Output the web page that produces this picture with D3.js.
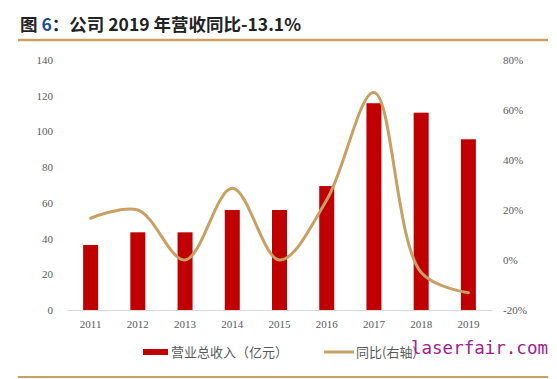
<!DOCTYPE html>
<html>
<head>
<meta charset="utf-8">
<script src="https://cdn.jsdelivr.net/npm/d3@7"></script>
<style>
  body { margin: 0; background: #fff; }
  svg { display: block; }
</style>
</head>
<body>
<svg id="chart" width="557" height="379"></svg>
<script>
const years = ["2011","2012","2013","2014","2015","2016","2017","2018","2019"];
const revenue = [36.4, 43.5, 43.5, 56, 56, 69.4, 115.8, 110.5, 95.6];
const yoy = [16.7, 20, 0, 28.7, 0, 24, 67, -5, -13.1];
const leftTicks = [0, 20, 40, 60, 80, 100, 120, 140];
const rightTicks = [-20, 0, 20, 40, 60, 80];
const seriesNames = ["营业总收入（亿元）", "同比(右轴)"];

const svg = d3.select("#chart");
const serif = "'Liberation Serif', 'DejaVu Serif', serif";
const cjk = "'Noto Sans CJK SC', sans-serif";
const gold = "#C9A063";
const red = "#C00000";
const gray = "#595959";

// Title
const title = svg.append("text").attr("x", 20).attr("y", 31)
  .attr("font-family", "'Noto Sans CJK SC', 'Liberation Sans', sans-serif")
  .attr("font-weight", "bold").attr("font-size", 17.5).attr("fill", "#222");
title.append("tspan").text("图 ");
title.append("tspan").attr("fill", "#1F4E8C").text("6");
title.append("tspan").text("：公司 2019 年营收同比-13.1%");

svg.append("line").attr("x1", 18).attr("x2", 548).attr("y1", 40).attr("y2", 40)
  .attr("stroke", gold).attr("stroke-width", 2.5);
svg.append("line").attr("x1", 18).attr("x2", 548).attr("y1", 377).attr("y2", 377)
  .attr("stroke", gold).attr("stroke-width", 2);

// Scales
const x = d3.scaleBand().domain(years).range([67, 492]).paddingInner(0).paddingOuter(0);
const yL = d3.scaleLinear().domain([0, 140]).range([310, 60]);
const yR = d3.scaleLinear().domain([-20, 80]).range([310, 60]);
const barW = 15;

// Left axis
const axL = svg.append("g").attr("transform", "translate(60,0)")
  .call(d3.axisLeft(yL).tickValues(leftTicks).tickSize(0).tickPadding(7));
axL.select(".domain").remove();
axL.selectAll("text").attr("font-family", serif).attr("font-size", 11).attr("fill", gray);

// Right axis
const axR = svg.append("g").attr("transform", "translate(497,0)")
  .call(d3.axisRight(yR).tickValues(rightTicks).tickSize(0).tickPadding(6).tickFormat(d => d + "%"));
axR.select(".domain").remove();
axR.selectAll("text").attr("font-family", serif).attr("font-size", 11).attr("fill", gray);

// Bars
svg.append("g").selectAll("rect").data(years).join("rect")
  .attr("x", d => x(d) + x.bandwidth() / 2 - barW / 2)
  .attr("y", (d, i) => yL(revenue[i]))
  .attr("width", barW)
  .attr("height", (d, i) => yL(0) - yL(revenue[i]))
  .attr("fill", red);

// Bottom axis
const axB = svg.append("g").attr("transform", "translate(0,310)")
  .call(d3.axisBottom(x).tickSize(0).tickPadding(10));
axB.select(".domain").attr("stroke", "#D9D9D9").attr("stroke-width", 1.2);
axB.selectAll("text").attr("font-family", serif).attr("font-size", 11).attr("fill", gray);

// Line
const line = d3.line()
  .x((d, i) => x(years[i]) + x.bandwidth() / 2)
  .y(d => yR(d))
  .curve(d3.curveCatmullRom.alpha(0.5));
svg.append("path").datum(yoy).attr("d", line)
  .attr("fill", "none").attr("stroke", gold).attr("stroke-width", 3)
  .attr("stroke-linecap", "round");

// Legend
const lg = svg.append("g");
lg.append("rect").attr("x", 143).attr("y", 349).attr("width", 25).attr("height", 6).attr("fill", red);
lg.append("text").attr("x", 171).attr("y", 357).text(seriesNames[0])
  .attr("font-family", cjk).attr("font-size", 13).attr("fill", gray);
lg.append("line").attr("x1", 324).attr("x2", 354).attr("y1", 352).attr("y2", 352)
  .attr("stroke", gold).attr("stroke-width", 3);
lg.append("text").attr("x", 356).attr("y", 357).text(seriesNames[1])
  .attr("font-family", cjk).attr("font-size", 13).attr("fill", gray);

// Watermark
svg.append("text").attr("x", 411).attr("y", 354).text("laserfair.com")
  .attr("font-family", "'DejaVu Sans Mono', monospace").attr("font-size", 17.5)
  .attr("fill", "#A0208F");
</script>
</body>
</html>
